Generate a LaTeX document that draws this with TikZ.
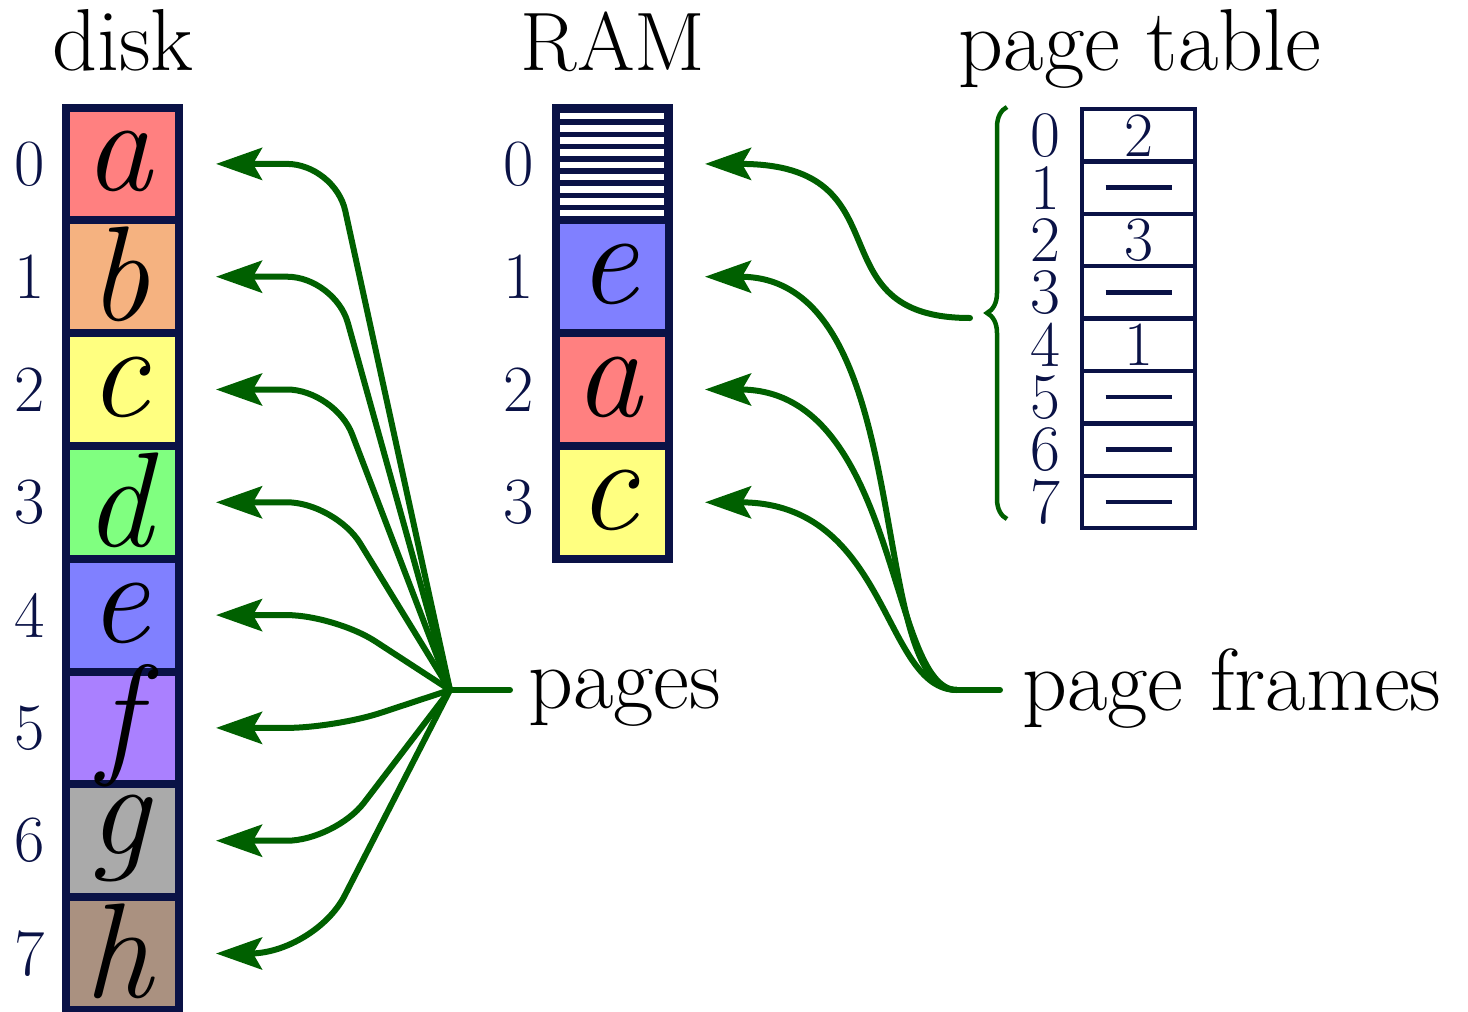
\documentclass[tikz,border=0pt]{standalone}
\usetikzlibrary{arrows.meta,decorations.pathreplacing,calc}
\definecolor{navy}{RGB}{10,18,70}
\definecolor{dgreen}{RGB}{0,96,0}
\definecolor{cA}{RGB}{255,128,128}
\definecolor{cB}{RGB}{245,178,128}
\definecolor{cC}{RGB}{255,255,128}
\definecolor{cD}{RGB}{128,255,128}
\definecolor{cE}{RGB}{128,128,255}
\definecolor{cF}{RGB}{170,128,255}
\definecolor{cG}{RGB}{170,170,170}
\definecolor{cH}{RGB}{170,145,128}
\begin{document}
\begin{tikzpicture}[x=1pt,y=-1pt,
  cell/.style={draw=navy, line width=8pt, minimum width=113pt, minimum height=112.8pt, inner sep=0pt, outer sep=0pt},
  ptcell/.style={draw=navy, line width=4.5pt, minimum width=113pt, minimum height=52.4pt, inner sep=0pt, outer sep=0pt},
  idx/.style={text=navy, font=\fontsize{66}{70}\selectfont, inner sep=0pt},
  ptidx/.style={text=navy, font=\fontsize{65}{70}\selectfont, inner sep=0pt},
  ptval/.style={text=navy, font=\fontsize{63}{70}\selectfont, inner sep=0pt},
  letter/.style={font=\fontsize{135}{140}\selectfont\itshape, inner sep=0pt},
  lbl/.style={font=\fontsize{88}{94}\selectfont, inner sep=0pt},
  capl/.style={font=\fontsize{83}{90}\selectfont, inner sep=0pt},
  gline/.style={draw=dgreen, line width=6pt, line cap=round},
  conn/.style={gline, -{Stealth[length=46pt,width=32pt,inset=9pt]}},
  dashline/.style={draw=navy, line width=4.5pt},
]
\useasboundingbox (0,0) rectangle (1468,1012);

% titles
\node[lbl, anchor=base] (tdisk) at (123,70) {disk};
\node[capl, anchor=base] (tram) at (613,70) {RAM};
\node[lbl, anchor=base] (tpt) at (1140,70) {page table};

% disk
\foreach \c/\l [count=\i from 0] in {cA/a,cB/b,cC/c,cD/d,cE/e,cF/f,cG/g,cH/h} {
  \node[cell, fill=\c] (d\i) at (122.5,{163.9+112.8*\i}) {};
  \node[idx] (di\i) at (30,{163.9+112.8*\i}) {\i};
  \coordinate (t\i) at (216,{163.9+112.8*\i});
}
\foreach \c/\l [count=\i from 0] in {cA/a,cB/b,cC/c,cD/d,cE/e,cF/f,cG/g,cH/h} {
  \node[letter] (dl\i) at ($(d\i.center)+(-4,-2)$) {\l};
}

% RAM
\node[cell, fill=navy] (r0) at (612,163.9) {};
\foreach \k in {0,...,8} {
  \fill[white] (560,{112.7+12.2*\k}) rectangle (664,{112.7+12.2*\k+6.6});
}
\foreach \c/\l [count=\i from 1] in {cE/e,cA/a,cC/c} {
  \node[cell, fill=\c] (r\i) at (612,{163.9+112.8*\i}) {};
  \node[letter] (rl\i) at ($(r\i.center)+(-4,-2)$) {\l};
}
\foreach \i in {0,...,3} {
  \node[idx] (ri\i) at (519,{163.9+112.8*\i}) {\i};
  \coordinate (u\i) at (705,{163.9+112.8*\i});
}

% page table
\foreach \i in {0,...,7} {
  \node[ptcell] (pt\i) at (1138.5,{135.2+52.4*\i}) {};
  \node[ptidx] (pti\i) at (1045,{135.2+52.4*\i}) {\i};
}
\node[ptval] (pv0) at (pt0.center) {2};
\node[ptval] (pv2) at (pt2.center) {3};
\node[ptval] (pv4) at (pt4.center) {1};
\foreach \i in {1,3,5,6,7} {
  \draw[dashline] ($(pt\i.center)+(-33,0)$) -- ($(pt\i.center)+(33,0)$);
}

% brace
\draw[draw=dgreen, line width=4.5pt, decorate, decoration={brace, amplitude=20pt}] (1007,519) -- (1007,107);
\coordinate (bt) at (970,318);

% pages hub
\coordinate (ph) at (450,690);
\coordinate (pe) at (510,690);
\node[lbl, anchor=base west] (pg) at (528,708) {pages};
\draw[gline] (ph) -- (pe);
\foreach \i in {0,...,6} {
  \draw[conn, rounded corners=48pt] (ph) -- (335,{163.9+112.8*\i}) -- (t\i);
}
\draw[conn, rounded corners=65pt] (ph) -- (315,{163.9+112.8*7}) -- (t7);

% page frames hub
\coordinate (fh) at (957,690);
\coordinate (fe) at (1000,690);
\node[lbl, anchor=base west] (pf) at (1022,710) {page frames};
\draw[gline] (fh) -- (fe);
\draw[conn] (fh) .. controls +(-93,0) and +(215,0) .. (u1);
\draw[conn] (fh) .. controls +(-69,0) and +(194,0) .. (u2);
\draw[conn] (fh) .. controls +(-75,0) and +(185,0) .. (u3);
\draw[conn] (bt) .. controls +(-160,0) and +(205,0) .. (u0);
\end{tikzpicture}
\end{document}
